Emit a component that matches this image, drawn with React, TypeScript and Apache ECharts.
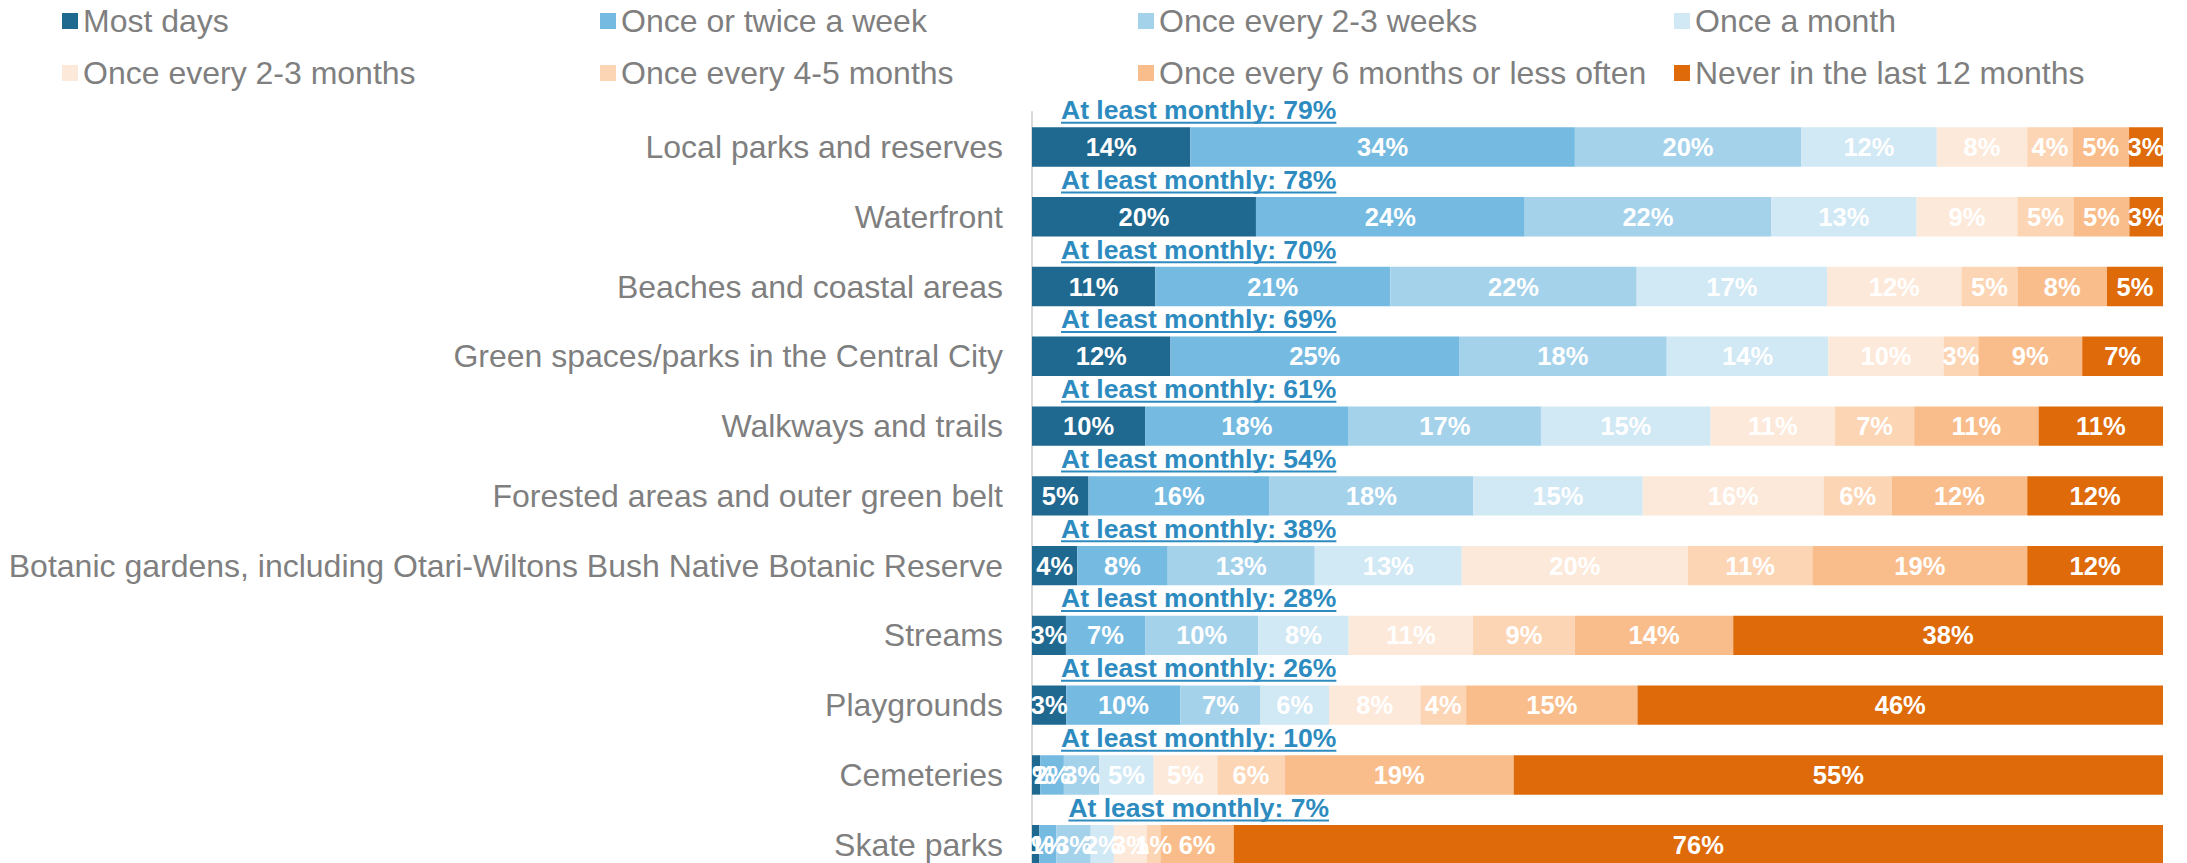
import React, { useEffect, useRef } from 'react';
import * as echarts from 'echarts';

const categories = [
  'Local parks and reserves',
  'Waterfront',
  'Beaches and coastal areas',
  'Green spaces/parks in the Central City',
  'Walkways and trails',
  'Forested areas and outer green belt',
  'Botanic gardens, including Otari-Wiltons Bush Native Botanic Reserve',
  'Streams',
  'Playgrounds',
  'Cemeteries',
  'Skate parks',
];

const seriesNames = [
  'Most days',
  'Once or twice a week',
  'Once every 2-3 weeks',
  'Once a month',
  'Once every 2-3 months',
  'Once every 4-5 months',
  'Once every 6 months or less often',
  'Never in the last 12 months',
];

const mostDays = [14, 20, 11, 12, 10, 5, 4, 3, 3, 0.7, 0.6];
const onceTwiceWeek = [34, 24, 21, 25, 18, 16, 8, 7, 10, 2, 1.4];
const every23Weeks = [20, 22, 22, 18, 17, 18, 13, 10, 7, 3, 2.8];
const onceMonth = [12, 13, 17, 14, 15, 15, 13, 8, 6, 4.6, 1.9];
const every23Months = [8, 9, 12, 10, 11, 16, 20, 11, 8, 5.4, 2.7];
const every45Months = [4, 5, 5, 3, 7, 6, 11, 9, 4, 5.7, 1.1];
const every6Months = [5, 5, 8, 9, 11, 12, 19, 14, 15, 19.4, 6];
const never12Months = [3, 3, 5, 7, 11, 12, 12, 38, 46, 55, 76];

const atLeastMonthly = [79, 78, 70, 69, 61, 54, 38, 28, 26, 10, 7];

const colors = ['#1f6990', '#75bae1', '#a5d2eb', '#d1e8f5', '#fde9da', '#fcd5b5', '#f9bd8b', '#de6a0a'];

const FONT = '"Liberation Sans", Arial, sans-serif';

export default function App() {
  const ref = useRef<HTMLDivElement>(null);
  useEffect(() => {
    const chart = echarts.init(ref.current!, null, { renderer: 'svg' });
    const raw = [mostDays, onceTwiceWeek, every23Weeks, onceMonth, every23Months, every45Months, every6Months, never12Months];
    const totals = categories.map((_, i) => raw.reduce((s, arr) => s + arr[i], 0));
    const labelFont = `bold 26.5px ${FONT}`;
    const ctx = document.createElement('canvas').getContext('2d')!;
    ctx.font = labelFont;
    const legendCols = [62, 600, 1138, 1674];
    const legendRows = [5, 57];
    const option: any = {
      animation: false,
      legend: seriesNames.map((n, k) => ({
        data: [n],
        left: legendCols[k % 4],
        top: legendRows[Math.floor(k / 4)],
        padding: 0,
        itemWidth: 16,
        itemHeight: 16,
        icon: 'rect',
        selectedMode: false,
        textStyle: { fontSize: 32, color: '#7f7f7f', fontFamily: FONT },
      })),
      grid: { left: 1032, top: 112.1, width: 1131, height: 767.5, outerBoundsMode: 'none', containLabel: false },
      xAxis: { type: 'value', min: 0, max: 100, show: false },
      yAxis: {
        type: 'category',
        data: categories,
        inverse: true,
        axisTick: { show: false },
        axisLine: { lineStyle: { color: '#d9d9d9', width: 2 } },
        axisLabel: { fontSize: 32, color: '#7f7f7f', fontFamily: FONT, margin: 29 },
      },
      series: [
        ...raw.map((arr, k) => ({
          type: 'bar',
          name: seriesNames[k],
          stack: 'total',
          barWidth: 39.4,
          itemStyle: { color: colors[k] },
          emphasis: { disabled: true },
          data: arr.map((v, i) => (v / totals[i]) * 100),
          label: {
            show: true,
            position: 'inside',
            color: '#ffffff',
            fontWeight: 'bold',
            fontSize: 25.5,
            fontFamily: FONT,
            formatter: (p: any) => Math.round(arr[p.dataIndex]) + '%',
          },
        })),
        {
          type: 'custom',
          data: atLeastMonthly.map((v, i) => [0, i, v]),
          encode: { x: 0, y: 1 },
          clip: false,
          silent: true,
          z: 10,
          renderItem: (params: any, api: any) => {
            const p = api.coord([0, api.value(1)]);
            const text = `At least monthly: ${api.value(2)}%`;
            const w = ctx.measureText(text).width;
            const cx = p[0] + 166.7;
            return {
              type: 'group',
              children: [
                {
                  type: 'text',
                  x: cx,
                  y: p[1] - 37,
                  style: { text, fill: '#2e8bc0', font: labelFont, align: 'center', verticalAlign: 'middle' },
                },
                {
                  type: 'rect',
                  shape: { x: cx - w / 2, y: p[1] - 25.3, width: w, height: 2 },
                  style: { fill: '#2e8bc0' },
                },
              ],
            };
          },
        },
      ],
    };
    chart.setOption(option);
    return () => chart.dispose();
  }, []);
  return <div ref={ref} style={{ position: 'absolute', left: 0, top: 0, width: 2187, height: 863 }} />;
}
